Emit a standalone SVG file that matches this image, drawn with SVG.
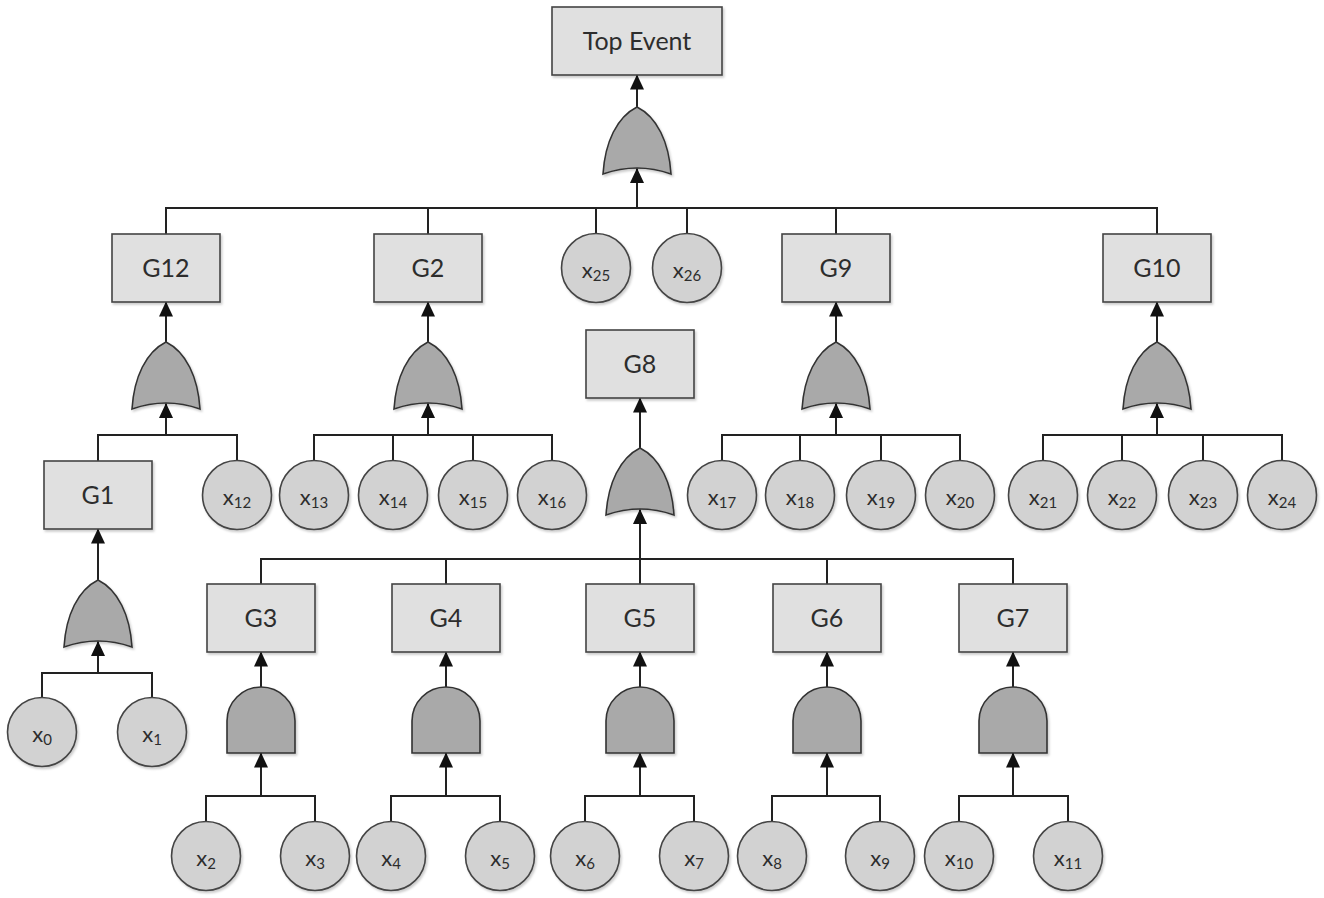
<svg xmlns="http://www.w3.org/2000/svg" width="1324" height="898" viewBox="0 0 1324 898">
<style>
.box{fill:#e0e0e0;stroke:#444;stroke-width:1.6;filter:url(#sh)}
.ev{fill:#d2d2d2;stroke:#444;stroke-width:1.6;filter:url(#sh)}
.gate{fill:#a9a9a9;stroke:#333;stroke-width:1.6;filter:url(#sh)}
.lbl{font-family:Lato,"Liberation Sans",sans-serif;font-size:25px;fill:#2d2d2d;text-anchor:middle}
.xl{font-family:Lato,"Liberation Sans",sans-serif;font-size:22px;fill:#2d2d2d;text-anchor:middle}
.sub{font-size:15px}
.con{fill:none;stroke:#222;stroke-width:2}
.arr{fill:none;stroke:#222;stroke-width:2;marker-end:url(#ah)}
</style>
<defs>
<filter id="sh" x="-10%" y="-10%" width="130%" height="130%">
<feDropShadow dx="1.5" dy="2" stdDeviation="1.2" flood-color="#000" flood-opacity="0.2"/>
</filter>
<marker id="ah" viewBox="0 0 15 14" markerWidth="15" markerHeight="14" refX="14.5" refY="7" orient="auto" markerUnits="userSpaceOnUse">
<path d="M0,0 L15,7 L0,14 z" fill="#111"/>
</marker>
</defs>
<rect width="1324" height="898" fill="#fff"/>

<g id="connectors">
<path class="con" d="M166,234 V208 H1157 V234 M428,208 V234 M596,208 V233.5 M687,208 V233.5 M836,208 V234"/>
<path class="arr" d="M637,208 V168.5"/>
<path class="arr" d="M637,107 V75"/>
<path class="arr" d="M166,342 V302"/>
<path class="con" d="M98,461 V435 H237 V460.5"/>
<path class="arr" d="M166,435 V403.5"/>
<path class="arr" d="M428,342 V302"/>
<path class="con" d="M314,460.5 V435 H552 V460.5 M393,435 V460.5 M473,435 V460.5"/>
<path class="arr" d="M428,435 V403.5"/>
<path class="arr" d="M836,342 V302"/>
<path class="con" d="M722,460.5 V435 H960 V460.5 M800,435 V460.5 M881,435 V460.5"/>
<path class="arr" d="M836,435 V403.5"/>
<path class="arr" d="M1157,342 V302"/>
<path class="con" d="M1043,460.5 V435 H1282 V460.5 M1122,435 V460.5 M1203,435 V460.5"/>
<path class="arr" d="M1157,435 V403.5"/>
<path class="arr" d="M98,580 V529"/>
<path class="con" d="M42,697.5 V673 H152 V697.5"/>
<path class="arr" d="M98,673 V641.5"/>
<path class="arr" d="M640,448 V398"/>
<path class="con" d="M261,584 V559 H1013 V584 M446,559 V584 M827,559 V584"/>
<path class="arr" d="M640,584 V509.5"/>
<path class="arr" d="M261,687 V652"/>
<path class="con" d="M206,821.5 V796 H315 V821.5"/>
<path class="arr" d="M261,796 V753"/>
<path class="arr" d="M446,687 V652"/>
<path class="con" d="M391,821.5 V796 H500 V821.5"/>
<path class="arr" d="M446,796 V753"/>
<path class="arr" d="M640,687 V652"/>
<path class="con" d="M585,821.5 V796 H694 V821.5"/>
<path class="arr" d="M640,796 V753"/>
<path class="arr" d="M827,687 V652"/>
<path class="con" d="M772,821.5 V796 H880 V821.5"/>
<path class="arr" d="M827,796 V753"/>
<path class="arr" d="M1013,687 V652"/>
<path class="con" d="M959,821.5 V796 H1068 V821.5"/>
<path class="arr" d="M1013,796 V753"/>
</g>

<g id="top-event"><rect class="box" x="552" y="7" width="170" height="68"/><text class="lbl" x="637" y="50">Top Event</text></g>
<g id="or-top"><path class="gate" d="M637,107 C657,117 669,142 671,174 Q637,162 603,174 C605,142 617,117 637,107 Z"/></g>

<g id="G12"><rect class="box" x="112" y="234" width="108" height="68"/><text class="lbl" x="166" y="277">G12</text></g>
<g id="G2"><rect class="box" x="374" y="234" width="108" height="68"/><text class="lbl" x="428" y="277">G2</text></g>
<g id="G9"><rect class="box" x="782" y="234" width="108" height="68"/><text class="lbl" x="836" y="277">G9</text></g>
<g id="G10"><rect class="box" x="1103" y="234" width="108" height="68"/><text class="lbl" x="1157" y="277">G10</text></g>
<g id="x25"><circle class="ev" cx="596" cy="268" r="34.5"/><text class="xl" x="596" y="278">x<tspan class="sub" dy="3">25</tspan></text></g>
<g id="x26"><circle class="ev" cx="687" cy="268" r="34.5"/><text class="xl" x="687" y="278">x<tspan class="sub" dy="3">26</tspan></text></g>

<g id="or-G12"><path class="gate" d="M166,342 C186,352 198,377 200,409 Q166,397 132,409 C134,377 146,352 166,342 Z"/></g>
<g id="or-G2"><path class="gate" d="M428,342 C448,352 460,377 462,409 Q428,397 394,409 C396,377 408,352 428,342 Z"/></g>
<g id="or-G9"><path class="gate" d="M836,342 C856,352 868,377 870,409 Q836,397 802,409 C804,377 816,352 836,342 Z"/></g>
<g id="or-G10"><path class="gate" d="M1157,342 C1177,352 1189,377 1191,409 Q1157,397 1123,409 C1125,377 1137,352 1157,342 Z"/></g>

<g id="G8"><rect class="box" x="586" y="330" width="108" height="68"/><text class="lbl" x="640" y="373">G8</text></g>
<g id="or-G8"><path class="gate" d="M640,448 C660,458 672,483 674,515 Q640,503 606,515 C608,483 620,458 640,448 Z"/></g>

<g id="G1"><rect class="box" x="44" y="461" width="108" height="68"/><text class="lbl" x="98" y="504">G1</text></g>
<g id="x12"><circle class="ev" cx="237" cy="495" r="34.5"/><text class="xl" x="237" y="505">x<tspan class="sub" dy="3">12</tspan></text></g>
<g id="x13"><circle class="ev" cx="314" cy="495" r="34.5"/><text class="xl" x="314" y="505">x<tspan class="sub" dy="3">13</tspan></text></g>
<g id="x14"><circle class="ev" cx="393" cy="495" r="34.5"/><text class="xl" x="393" y="505">x<tspan class="sub" dy="3">14</tspan></text></g>
<g id="x15"><circle class="ev" cx="473" cy="495" r="34.5"/><text class="xl" x="473" y="505">x<tspan class="sub" dy="3">15</tspan></text></g>
<g id="x16"><circle class="ev" cx="552" cy="495" r="34.5"/><text class="xl" x="552" y="505">x<tspan class="sub" dy="3">16</tspan></text></g>
<g id="x17"><circle class="ev" cx="722" cy="495" r="34.5"/><text class="xl" x="722" y="505">x<tspan class="sub" dy="3">17</tspan></text></g>
<g id="x18"><circle class="ev" cx="800" cy="495" r="34.5"/><text class="xl" x="800" y="505">x<tspan class="sub" dy="3">18</tspan></text></g>
<g id="x19"><circle class="ev" cx="881" cy="495" r="34.5"/><text class="xl" x="881" y="505">x<tspan class="sub" dy="3">19</tspan></text></g>
<g id="x20"><circle class="ev" cx="960" cy="495" r="34.5"/><text class="xl" x="960" y="505">x<tspan class="sub" dy="3">20</tspan></text></g>
<g id="x21"><circle class="ev" cx="1043" cy="495" r="34.5"/><text class="xl" x="1043" y="505">x<tspan class="sub" dy="3">21</tspan></text></g>
<g id="x22"><circle class="ev" cx="1122" cy="495" r="34.5"/><text class="xl" x="1122" y="505">x<tspan class="sub" dy="3">22</tspan></text></g>
<g id="x23"><circle class="ev" cx="1203" cy="495" r="34.5"/><text class="xl" x="1203" y="505">x<tspan class="sub" dy="3">23</tspan></text></g>
<g id="x24"><circle class="ev" cx="1282" cy="495" r="34.5"/><text class="xl" x="1282" y="505">x<tspan class="sub" dy="3">24</tspan></text></g>

<g id="or-G1"><path class="gate" d="M98,580 C118,590 130,615 132,647 Q98,635 64,647 C66,615 78,590 98,580 Z"/></g>
<g id="x0"><circle class="ev" cx="42" cy="732" r="34.5"/><text class="xl" x="42" y="742">x<tspan class="sub" dy="3">0</tspan></text></g>
<g id="x1"><circle class="ev" cx="152" cy="732" r="34.5"/><text class="xl" x="152" y="742">x<tspan class="sub" dy="3">1</tspan></text></g>

<g id="G3"><rect class="box" x="207" y="584" width="108" height="68"/><text class="lbl" x="261" y="627">G3</text></g>
<g id="G4"><rect class="box" x="392" y="584" width="108" height="68"/><text class="lbl" x="446" y="627">G4</text></g>
<g id="G5"><rect class="box" x="586" y="584" width="108" height="68"/><text class="lbl" x="640" y="627">G5</text></g>
<g id="G6"><rect class="box" x="773" y="584" width="108" height="68"/><text class="lbl" x="827" y="627">G6</text></g>
<g id="G7"><rect class="box" x="959" y="584" width="108" height="68"/><text class="lbl" x="1013" y="627">G7</text></g>

<g id="and-G3"><path class="gate" d="M227,753 V721 A34,34 0 0 1 295,721 V753 Z"/></g>
<g id="and-G4"><path class="gate" d="M412,753 V721 A34,34 0 0 1 480,721 V753 Z"/></g>
<g id="and-G5"><path class="gate" d="M606,753 V721 A34,34 0 0 1 674,721 V753 Z"/></g>
<g id="and-G6"><path class="gate" d="M793,753 V721 A34,34 0 0 1 861,721 V753 Z"/></g>
<g id="and-G7"><path class="gate" d="M979,753 V721 A34,34 0 0 1 1047,721 V753 Z"/></g>

<g id="x2"><circle class="ev" cx="206" cy="856" r="34.5"/><text class="xl" x="206" y="866">x<tspan class="sub" dy="3">2</tspan></text></g>
<g id="x3"><circle class="ev" cx="315" cy="856" r="34.5"/><text class="xl" x="315" y="866">x<tspan class="sub" dy="3">3</tspan></text></g>
<g id="x4"><circle class="ev" cx="391" cy="856" r="34.5"/><text class="xl" x="391" y="866">x<tspan class="sub" dy="3">4</tspan></text></g>
<g id="x5"><circle class="ev" cx="500" cy="856" r="34.5"/><text class="xl" x="500" y="866">x<tspan class="sub" dy="3">5</tspan></text></g>
<g id="x6"><circle class="ev" cx="585" cy="856" r="34.5"/><text class="xl" x="585" y="866">x<tspan class="sub" dy="3">6</tspan></text></g>
<g id="x7"><circle class="ev" cx="694" cy="856" r="34.5"/><text class="xl" x="694" y="866">x<tspan class="sub" dy="3">7</tspan></text></g>
<g id="x8"><circle class="ev" cx="772" cy="856" r="34.5"/><text class="xl" x="772" y="866">x<tspan class="sub" dy="3">8</tspan></text></g>
<g id="x9"><circle class="ev" cx="880" cy="856" r="34.5"/><text class="xl" x="880" y="866">x<tspan class="sub" dy="3">9</tspan></text></g>
<g id="x10"><circle class="ev" cx="959" cy="856" r="34.5"/><text class="xl" x="959" y="866">x<tspan class="sub" dy="3">10</tspan></text></g>
<g id="x11"><circle class="ev" cx="1068" cy="856" r="34.5"/><text class="xl" x="1068" y="866">x<tspan class="sub" dy="3">11</tspan></text></g>
</svg>
